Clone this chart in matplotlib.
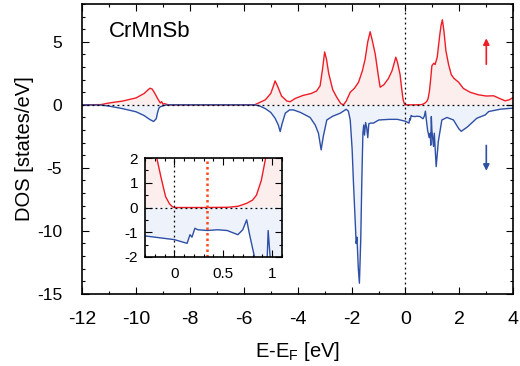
import matplotlib
matplotlib.use("Agg")
import matplotlib.pyplot as plt
from matplotlib.ticker import MultipleLocator, FormatStrFormatter

plt.rcParams['font.family'] = ['Liberation Sans', 'DejaVu Sans']
plt.rcParams['axes.unicode_minus'] = False

# spin-up DOS
E_up = [-12, -11.3, -11.0, -10.5, -10.0, -9.7, -9.55, -9.48, -9.4, -9.3, -9.2, -9.1,
        -9.05, -9.0, -8.95, -8.8, -5.6, -5.4, -5.2, -5.0, -4.9, -4.84, -4.75, -4.6,
        -4.4, -4.28, -4.1, -3.8, -3.5, -3.3, -3.17, -3.08, -3.0, -2.93, -2.85, -2.7,
        -2.55, -2.4, -2.3, -2.2, -2.05, -1.9, -1.74, -1.6, -1.5, -1.4, -1.31, -1.22,
        -1.12, -1.0, -0.94, -0.8, -0.63, -0.5, -0.42, -0.36, -0.3, -0.2, -0.18, -0.13,
        -0.09, -0.05, -0.02, 0.0, 0.3, 0.55, 0.65, 0.74, 0.8, 0.84, 0.89, 0.93, 0.98,
        1.05, 1.1, 1.18, 1.27, 1.32, 1.37, 1.43, 1.5, 1.6, 1.7, 1.8, 1.97, 2.15, 2.4,
        2.7, 3.0, 3.27, 3.5, 3.7, 3.85, 4.0]
dos_up = [0, 0.02, 0.15, 0.3, 0.55, 0.9, 1.2, 1.32, 1.25, 0.9, 0.5, 0.15,
          0.25, 0.05, 0.1, 0, 0, 0.2, 0.4, 0.9, 1.5, 1.9, 1.5, 0.7,
          0.3, 0.25, 0.5, 0.75, 0.9, 1.1, 1.5, 2.8, 4.2, 3.6, 2.5, 1.2,
          0.6, 0.1, 0.0, 0.3, 1.0, 1.3, 1.8, 2.7, 3.6, 5.0, 5.8, 5.0,
          4.0, 2.2, 1.4, 1.6, 2.1, 2.7, 3.3, 3.78, 3.4, 2.4, 2.0, 1.1,
          0.44, 0.15, 0.03, 0.0, 0.0, 0.01, 0.05, 0.17, 0.3, 0.5, 1.1, 1.92, 3.1,
          3.3, 3.2, 3.8, 5.5, 6.3, 6.75, 5.8, 4.3, 3.2, 2.4, 2.1, 1.8, 1.3, 1.0,
          0.8, 0.7, 0.72, 0.5, 0.32, 0.4, 0.58]

# spin-down DOS
E_dn = [-12, -11.3, -11.0, -10.5, -10.0, -9.7, -9.5, -9.35, -9.25, -9.2, -9.15, -9.1,
        -9.0, -8.9, -8.7, -5.6, -5.4, -5.2, -5.0, -4.84, -4.72, -4.65, -4.58, -4.46,
        -4.3, -4.16, -3.9, -3.54, -3.35, -3.23, -3.13, -3.05, -2.92, -2.7, -2.42, -2.2,
        -2.12, -2.05, -1.98, -1.93, -1.86, -1.83, -1.8, -1.75, -1.71, -1.66, -1.62, -1.58,
        -1.55, -1.52, -1.48, -1.44, -1.4, -1.36, -1.3, -1.19, -0.99, -0.6, -0.3, 0.0,
        0.13, 0.16, 0.18, 0.21, 0.24, 0.34, 0.44, 0.54, 0.65, 0.7, 0.74, 0.77, 0.82,
        0.88, 0.92, 0.94, 0.96, 0.98, 1.04, 1.07, 1.14, 1.22, 1.35, 1.54, 1.78, 1.98,
        2.07, 2.3, 2.65, 2.96, 3.09, 3.53, 4.0]
dos_dn = [0, -0.02, -0.1, -0.3, -0.55, -0.85, -1.15, -1.32, -1.1, -0.6, -0.25, -0.15,
          -0.08, -0.02, 0, 0, -0.1, -0.3, -0.6, -1.06, -1.6, -2.12, -1.5, -0.66,
          -0.4, -0.4, -0.6, -1.0, -1.6, -2.25, -3.57, -2.5, -1.2, -0.9, -0.66, -0.35,
          -0.5, -1.2, -3.5, -6.2, -9.5, -11.0, -10.5, -13.0, -14.15, -10.7, -6.0, -2.25,
          -1.6, -2.4, -1.4, -1.8, -2.6, -1.5, -1.45, -1.45, -1.2, -1.15, -1.15, -1.3,
          -1.45, -1.1, -1.2, -0.84, -0.9, -0.93, -0.9, -0.93, -1.1, -0.9, -0.5, -1.1, -2.0,
          -2.6, -2.25, -3.2, -0.93, -2.0, -3.3, -2.25, -4.9, -2.9, -1.2, -1.0, -1.2, -1.9,
          -2.1, -1.75, -1.06, -0.8, -0.53, -0.34, -0.26]

red = '#ee1c25'
blue = '#2e4fa6'
red_fill = '#fdeeee'
blue_fill = '#eef3fb'

fig = plt.figure(figsize=(5.2, 3.66), dpi=100)
ax = fig.add_axes([0.158, 0.197, 0.829, 0.792])


def draw(a):
    a.fill_between(E_up, 0, dos_up, color=red_fill, lw=0)
    a.fill_between(E_dn, 0, dos_dn, color=blue_fill, lw=0)
    a.plot(E_up, dos_up, color=red, lw=1.0)
    a.plot(E_dn, dos_dn, color=blue, lw=1.0)
    a.axhline(0, color='black', lw=0.9, ls=(0, (1.5, 2.5)))
    a.axvline(0, color='black', lw=0.9, ls=(0, (1.5, 2.5)))


def style(a):
    a.tick_params(which='both', direction='in', top=True, right=True)
    a.tick_params(which='major', length=5, width=0.8)
    a.tick_params(which='minor', length=2.5, width=0.8)
    for s in a.spines.values():
        s.set_linewidth(1.2)


draw(ax)
ax.set_xlim(-12, 4)
ax.set_ylim(-15, 8)
ax.xaxis.set_major_locator(MultipleLocator(2))
ax.xaxis.set_minor_locator(MultipleLocator(1))
ax.yaxis.set_major_locator(MultipleLocator(5))
ax.yaxis.set_minor_locator(MultipleLocator(1))
style(ax)
ax.tick_params(axis='x', labelsize=14, pad=12.5)
ax.tick_params(axis='y', labelsize=12.5, pad=14.5)
ax.set_xlabel('E-E$_\\mathregular{F}$ [eV]', fontsize=14.5)
ax.set_ylabel('DOS [states/eV]', fontsize=14.5)
ax.xaxis.set_label_coords(0.5, -0.16)
ax.yaxis.set_label_coords(-0.112, 0.5)
ax.text(-11.0, 5.37, 'CrMnSb', fontsize=16, va='baseline')

ax.annotate('', xy=(3.0, 5.5), xytext=(3.0, 3.0),
            arrowprops=dict(arrowstyle='-|>', color=red, lw=1.2, mutation_scale=9))
ax.annotate('', xy=(3.0, -5.45), xytext=(3.0, -3.0),
            arrowprops=dict(arrowstyle='-|>', color=blue, lw=1.2, mutation_scale=9))

# inset around the gap
ins = fig.add_axes([0.279, 0.298, 0.263, 0.270])
draw(ins)
ins.axvline(0.33, color='#ff4a1c', lw=1.8, ls=(0, (1, 1.2)))
ins.set_xlim(-0.3, 1.1)
ins.set_ylim(-2, 2)
ins.xaxis.set_major_locator(MultipleLocator(0.5))
ins.xaxis.set_minor_locator(MultipleLocator(0.1))
ins.xaxis.set_major_formatter(FormatStrFormatter('%g'))
ins.yaxis.set_major_locator(MultipleLocator(1))
ins.yaxis.set_minor_locator(MultipleLocator(0.5))
style(ins)
ins.tick_params(axis='x', labelsize=11, pad=7)
ins.tick_params(axis='y', labelsize=11, pad=5)
ins.set_facecolor('white')

fig.savefig('out.png', dpi=100)
